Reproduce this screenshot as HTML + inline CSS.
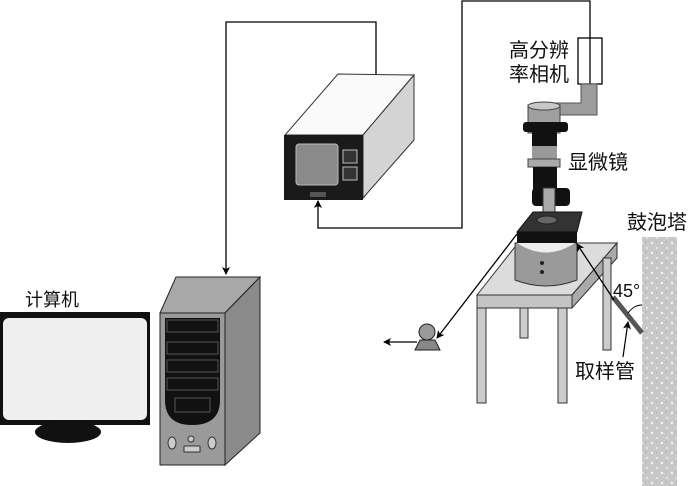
<!DOCTYPE html>
<html><head><meta charset="utf-8"><style>
body{margin:0;background:#fff}
svg{display:block}
text{font-family:"Liberation Sans","Noto Sans CJK SC",sans-serif;fill:#111}
</style></head><body>
<svg width="693" height="486" viewBox="0 0 693 486" xmlns="http://www.w3.org/2000/svg">
<defs>
<marker id="ar" markerWidth="8" markerHeight="8" refX="7" refY="4" orient="auto" markerUnits="userSpaceOnUse"><path d="M0,0 L8,4 L0,8 L2,4 z" fill="#000"/></marker>
<pattern id="bub" width="10" height="10" patternUnits="userSpaceOnUse"><rect width="10" height="10" fill="#c8c8c8"/><circle cx="2" cy="3" r="1.2" fill="#f4f4f4"/><circle cx="7" cy="8" r="1" fill="#eee"/><circle cx="6" cy="2" r="0.7" fill="#aaa"/></pattern>
</defs>
<!-- wires -->
<polyline points="376,75 376,22 226,22 226,274" fill="none" stroke="#000" stroke-width="1.3" marker-end="url(#ar)"/>
<polyline points="590,38 590,1 462,1 462,228 318,228 318,201" fill="none" stroke="#000" stroke-width="1.3" marker-end="url(#ar)"/>

<!-- video monitor box -->
<polygon points="285,135 338,74 414,75 363,135" fill="#fafafa" stroke="#333" stroke-width="1"/>
<polygon points="363,135 414,75 414,140 363,198" fill="#d4d4d4" stroke="#333" stroke-width="1"/>
<rect x="284" y="135" width="79" height="65" fill="#1a1a1a"/>
<rect x="296" y="144" width="42" height="41" rx="3" fill="#8a8a8a" stroke="#bbb"/>
<rect x="343" y="150" width="14" height="13" fill="#333" stroke="#bbb"/>
<rect x="343" y="167" width="14" height="13" fill="#333" stroke="#bbb"/>
<rect x="310" y="192" width="16" height="5" fill="#555"/>

<!-- computer tower -->
<polygon points="160,313 176,277 260,277 225,313" fill="#a8a8a8" stroke="#222"/>
<polygon points="225,313 260,277 260,433 225,465" fill="#8a8a8a" stroke="#222"/>
<rect x="160" y="313" width="65" height="152" fill="#9a9a9a" stroke="#222"/>
<path d="M165,318 H220 V400 Q220,425 192,425 Q165,425 165,400 Z" fill="#111"/>
<g stroke="#555" fill="none"><rect x="167" y="320" width="51" height="12"/><rect x="167" y="342" width="51" height="12"/><rect x="167" y="360" width="51" height="12"/><rect x="167" y="378" width="51" height="12"/><rect x="175" y="398" width="35" height="14"/></g>
<g fill="#ccc" stroke="#333"><ellipse cx="172" cy="443" rx="4" ry="6"/><ellipse cx="212" cy="443" rx="4" ry="6"/><circle cx="191" cy="439" r="3"/><rect x="184" y="446" width="16" height="6"/></g>

<!-- computer monitor -->
<rect x="0" y="312" width="150" height="113" fill="#111"/>
<rect x="3" y="318" width="144" height="102" rx="6" fill="#efefef"/>
<rect x="62" y="425" width="14" height="6" fill="#111"/>
<ellipse cx="68" cy="432" rx="33" ry="11" fill="#111"/>
<text x="25" y="306" font-size="18">计算机</text>

<!-- camera & microscope -->
<rect x="578" y="38" width="24" height="46" fill="#fff" stroke="#000" stroke-width="1.3"/>
<line x1="590" y1="38" x2="590" y2="84" stroke="#000" stroke-width="1.3"/>
<path d="M581,84 H597 V115 H555 V103 H581 Z" fill="#9c9c9c" stroke="#555"/>
<rect x="528" y="105" width="32" height="28" fill="#a0a0a0" stroke="#444"/>
<ellipse cx="544" cy="106" rx="16" ry="4" fill="#c8c8c8" stroke="#444"/>
<rect x="523" y="122" width="45" height="10" rx="3" fill="#111"/>
<rect x="532" y="132" width="25" height="16" fill="#111"/>
<rect x="532" y="146" width="25" height="14" fill="#999"/>
<rect x="528" y="159" width="32" height="8" fill="#aaa" stroke="#444"/>
<rect x="533" y="167" width="24" height="23" fill="#111"/>
<rect x="532" y="188" width="38" height="18" rx="4" fill="#111"/>
<rect x="543" y="188" width="12" height="24" fill="#aaa" stroke="#333"/>
<text x="509" y="57" font-size="20">高分辨</text>
<text x="509" y="81" font-size="20">率相机</text>
<text x="568" y="169" font-size="20">显微镜</text>

<!-- table -->
<polygon points="477,295 518,243 617,243 572,295" fill="#dcdcdc" stroke="#333"/>
<polygon points="572,295 617,243 617,258 572,308" fill="#aaa" stroke="#333"/>
<rect x="477" y="295" width="95" height="13" fill="#c4c4c4" stroke="#333"/>
<rect x="520" y="308" width="8" height="30" fill="#ccc" stroke="#333"/>
<rect x="603" y="258" width="8" height="92" fill="#ccc" stroke="#333"/>
<rect x="477" y="308" width="9" height="95" fill="#ccc" stroke="#333"/>
<rect x="558" y="308" width="9" height="95" fill="#ccc" stroke="#333"/>

<!-- stage & cylinder -->
<path d="M515,243 V280 Q546,292 577,280 V243 Z" fill="#9a9a9a" stroke="#333"/>
<path d="M517,243 Q546,262 575,243 Z" fill="#eee"/>
<circle cx="542" cy="263" r="2" fill="#222"/><circle cx="542" cy="272" r="2" fill="#222"/>
<polygon points="533,212 582,212 577,232 517,232" fill="#333" stroke="#111"/>
<rect x="517" y="232" width="60" height="11" fill="#111"/>
<ellipse cx="547" cy="220" rx="10" ry="4" fill="#666" stroke="#222"/>

<!-- bubble column -->
<rect x="642" y="237" width="35" height="249" fill="url(#bub)"/>
<text x="627" y="229" font-size="20">鼓泡塔</text>

<!-- sampling tube -->
<line x1="613" y1="297" x2="642" y2="333" stroke="#555" stroke-width="5"/>
<line x1="614" y1="300" x2="577" y2="244" stroke="#000" stroke-width="1.3" marker-end="url(#ar)"/>
<path d="M628,313 Q634,305 642,305" fill="none" stroke="#000"/>
<text x="613" y="297" font-size="18" font-family="Liberation Serif">45°</text>
<line x1="623" y1="357" x2="628" y2="322" stroke="#000" stroke-width="1.2" marker-end="url(#ar)"/>
<text x="575" y="378" font-size="20">取样管</text>

<!-- pump -->
<line x1="517" y1="234" x2="437" y2="338" stroke="#000" stroke-width="1.3" marker-end="url(#ar)"/>
<polygon points="420,340 435,340 440,350 415,350" fill="#888" stroke="#222"/>
<circle cx="427" cy="332" r="8" fill="#999" stroke="#222"/>
<line x1="417" y1="342" x2="384" y2="342" stroke="#000" stroke-width="1.3" marker-end="url(#ar)"/>
</svg>
</body></html>
